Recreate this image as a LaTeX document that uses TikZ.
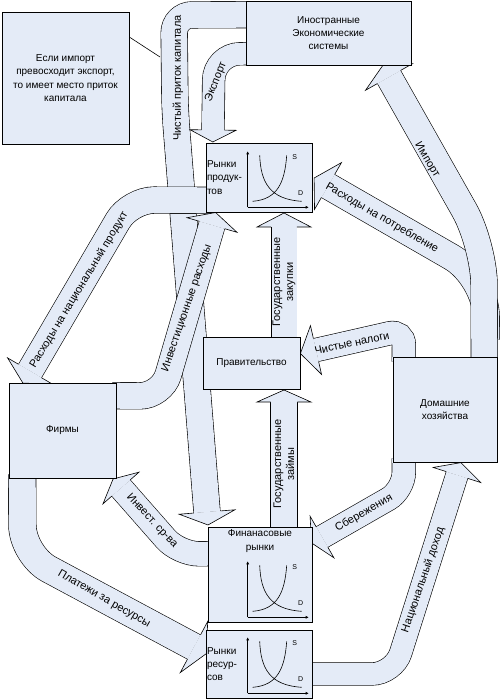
\documentclass[tikz,border=0pt]{standalone}
\usepackage{fontspec}
\setmainfont{Liberation Sans}
\usetikzlibrary{arrows.meta, calc, backgrounds}

\definecolor{flowfill}{RGB}{228,235,247}

% head of a block arrow: shaft point, base point, shaft half width, barb half width, length
\newcommand{\flowhead}[5]{%
  \filldraw[fill=flowfill, line width=0.6pt]
    ($(#2)!#3!90:(#1)$) -- ($(#2)!#4!90:(#1)$) -- ($(#2)!#5!180:(#1)$)
    -- ($(#2)!#4!-90:(#1)$) -- ($(#2)!#3!-90:(#1)$);}

\begin{document}
\begin{tikzpicture}[x=1pt, y=-1pt,
    box/.style={draw, fill=flowfill, line width=0.6pt, inner sep=0pt, align=center,
        font=\fontsize{10}{13.3}\selectfont},
    boxtext/.style={inner sep=0pt, align=center, font=\fontsize{10}{13.3}\selectfont},
    flow/.style={draw, line width=0.6pt, double=flowfill, double distance=#1},
    flowlbl/.style={font=\fontsize{11}{13}\selectfont, inner sep=0pt},
    sdgraph/.pic={
        \draw[line width=0.6pt, -{Latex[length=3pt, width=3pt]}] (0,0) -- (0,-56);
        \draw[line width=0.6pt, -{Latex[length=3pt, width=3pt]}] (0,0) -- (61,0);
        \draw[line width=0.6pt] (12,-52) .. controls (13,-25) and (22,-8) .. (54,-6);
        \draw[line width=0.6pt] (39,-52) .. controls (37,-25) and (30,-8) .. (5,-6);
        \node[font=\fontsize{7}{8}\selectfont] at (47,-50) {S};
        \node[font=\fontsize{7}{8}\selectfont] at (53,-14) {D};
    }
]
\useasboundingbox (0,0) rectangle (499,700);

% Sectors and markets
\node[box, minimum width=127pt, minimum height=132pt] (note) at (65.5,78)
    {Если импорт\\превосходит экспорт,\\то имеет место приток\\капитала};
\node[box, minimum width=165pt, minimum height=64pt] (fs) at (328.5,33)
    {Иностранные\\Экономические\\системы};
\node[box, minimum width=106pt, minimum height=69pt, text width=104pt, align=left,
    inner xsep=1pt] (pm) at (259,177.5) {Рынки\\продук-\\тов};
\node[box, minimum width=97pt, minimum height=52pt] (gov) at (251.5,363) {Правительство};
\node[box, minimum width=107pt, minimum height=95pt] (firms) at (62.5,430.5) {Фирмы};
\node[box, minimum width=104pt, minimum height=105pt] (hh) at (445,409.5) {Домашние\\хозяйства};
\node[box, minimum width=104pt, minimum height=95pt] (fm) at (260,574.5) {};
\node[boxtext, anchor=north] (fmtext) at ([yshift=-3pt]fm.north) {Финанасовые\\рынки};
\node[box, minimum width=106pt, minimum height=68pt, text width=104pt, align=left,
    inner xsep=1pt] (rm) at (259,664) {Рынки\\ресур-\\сов};

% Supply and demand inside the markets
\pic at ($(pm.south west)+(42,-5)$) {sdgraph};
\pic at ($(fm.south west)+(40,-5)$) {sdgraph};
\pic at ($(rm.south west)+(42,-5)$) {sdgraph};

\begin{scope}[on background layer]
% Net capital inflow
\coordinate (cap1) at (175,110);
\coordinate (capend) at (207,512);
\draw[flow=26pt, rounded corners=18pt] ($(fs.north west)+(4,14)$) -- (174,15) -- (cap1) -- (capend);
\flowhead{cap1}{capend}{13.3pt}{28pt}{13pt}

% Spending on national product
\coordinate (ndp1) at (130,200);
\coordinate (ndpend) at (30,371);
\draw[flow=26pt, rounded corners=24pt] ($(pm.south west)+(4,-12)$) -- (ndp1) -- (ndpend);
\flowhead{ndp1}{ndpend}{13.3pt}{26pt}{14pt}

% Investment spending
\coordinate (inv1) at (162,396);
\coordinate (invend) at (212,225);
\draw[flow=26pt, rounded corners=22pt] ($(firms.north east)+(-4,13)$) -- (inv1) -- (invend);
\flowhead{inv1}{invend}{13.3pt}{26pt}{13pt}

% Export
\coordinate (exp1) at (214,54);
\coordinate (expend) at (213,130);
\draw[flow=22pt, rounded corners=26pt] ($(fs.north west)+(4,53)$) -- (exp1) -- (expend);
\flowhead{exp1}{expend}{11.3pt}{23pt}{12pt}

% Consumption, then import on top of it
\coordinate (con0) at ($(hh.north east)+(-11,-17)$);
\coordinate (con1) at (486,277);
\coordinate (conend) at (328,186);
\draw[flow=26pt, rounded corners=40pt] (con0) -- (con1) -- (conend);
\flowhead{con1}{conend}{13.3pt}{27pt}{16pt}

\coordinate (imp1) at (484,245);
\coordinate (impend) at (389,77);
\draw[flow=26pt, rounded corners=40pt] ($(hh.north east)+(-13,5)$) -- (imp1) -- (impend);
\flowhead{imp1}{impend}{13.3pt}{27pt}{13pt}

% Net taxes
\coordinate (tax1) at (404,330);
\coordinate (taxend) at (316,350);
\draw[flow=23pt, rounded corners=15pt] ($(hh.north west)+(11,5)$) -- (tax1) -- (taxend);
\flowhead{tax1}{taxend}{11.8pt}{25pt}{16pt}

% Government purchases and borrowing
\coordinate (gp0) at ($(gov.north)+(32.5,5)$);
\coordinate (gpend) at (284,227);
\draw[flow=25pt] (gp0) -- (gpend);
\flowhead{gp0}{gpend}{12.8pt}{27pt}{14pt}

\coordinate (gb0) at ($(fm.north)+(24,5)$);
\coordinate (gbend) at (284,402);
\draw[flow=26pt] (gb0) -- (gbend);
\flowhead{gb0}{gbend}{13.3pt}{27pt}{12pt}

% Savings
\coordinate (sav1) at (404,490);
\coordinate (savend) at (322,537);
\draw[flow=23pt, rounded corners=18pt] ($(hh.south west)+(11,-4)$) -- (sav1) -- (savend);
\flowhead{sav1}{savend}{11.8pt}{24pt}{12pt}

% Investment funds
\coordinate (if1) at (179,554);
\coordinate (ifend) at (121,488);
\draw[flow=24pt, rounded corners=20pt] ($(fm.north west)+(4,27)$) -- (if1) -- (ifend);
\flowhead{if1}{ifend}{12.3pt}{24pt}{12pt}

% Resource payments
\coordinate (pay1) at (22.5,555);
\coordinate (payend) at (194,647);
\draw[flow=27pt, rounded corners=30pt] ($(firms.south west)+(13.5,-4)$) -- (pay1) -- (payend);
\flowhead{pay1}{payend}{13.8pt}{29pt}{14pt}

% National income
\coordinate (ni1) at (394,674);
\coordinate (niend) at (457,475);
\draw[flow=22pt, rounded corners=22pt] ($(rm.east)+(-4,10)$) -- (ni1) -- (niend);
\flowhead{ni1}{niend}{11.3pt}{25pt}{13pt}
\end{scope}

% Note pointer
\coordinate (capnote) at (160,57);
\draw[line width=0.6pt] ([yshift=41pt]note.east) -- (capnote);

% Flow labels
\node[flowlbl, rotate=90] (lcap) at (178,78) {Чистый приток капитала};
\node[flowlbl, rotate=68] (lexp) at (216,82) {Экспорт};
\node[flowlbl, rotate=-59] (limp) at (427,160) {Импорт};
\node[flowlbl, rotate=-30] (lcon) at (382,218) {Расходы на потребление};
\node[flowlbl, rotate=59] (lndp) at (79,290) {Расходы на национальный продукт};
\node[flowlbl, rotate=71] (linv) at (187,308) {Инвестиционные расходы};
\node[flowlbl, rotate=90, align=center] (lgp) at (284,282) {Государственные\\закупки};
\node[flowlbl, rotate=12] (ltax) at (352,343) {Чистые налоги};
\node[flowlbl, rotate=90, align=center] (lgb) at (284,464) {Государственные\\займы};
\node[flowlbl, rotate=30] (lsav) at (364,513) {Сбережения};
\node[flowlbl, rotate=-47] (lif) at (152,521) {Инвест. ср-ва};
\node[flowlbl, rotate=-30] (lpay) at (104,599) {Платежи за ресурсы};
\node[flowlbl, rotate=71] (lni) at (423,580) {Национальный доход};

\end{tikzpicture}
\end{document}
